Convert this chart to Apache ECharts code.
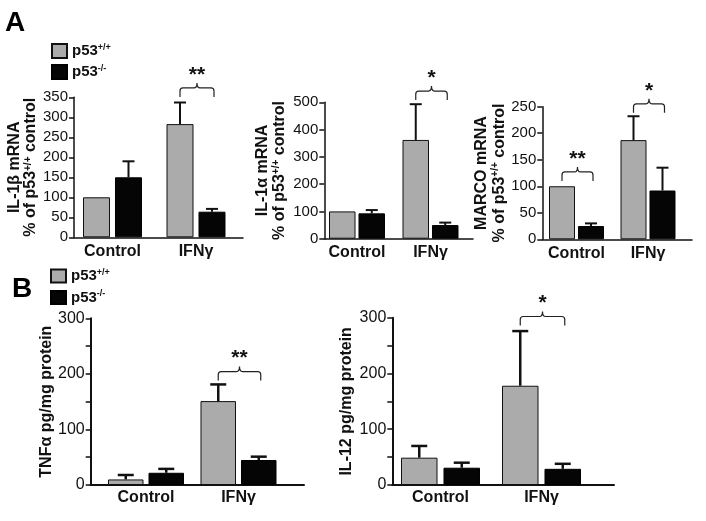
<!DOCTYPE html>
<html><head><meta charset="utf-8">
<script src="https://cdn.jsdelivr.net/npm/echarts@6/dist/echarts.min.js"></script>
<style>html,body{margin:0;padding:0;background:#fff}#c{width:706px;height:521px}</style>
</head><body><div id="c"></div>
<script>
// ---------- data ----------
const categories = ['Control', 'IFNγ'];
const seriesNames = ['p53+/+', 'p53-/-'];
const marks = ['*', '**'];

// A: IL-1β mRNA (% of p53+/+ control)
const il1bWT = [100, 283];
const il1bWTErr = [null, 337];
const il1bKO = [150, 64];
const il1bKOErr = [190, 71];
const il1bSig = [[2, 351, 1]];

// A: IL-1α mRNA
const il1aWT = [100, 362];
const il1aWTErr = [null, 493];
const il1aKO = [93, 50];
const il1aKOErr = [105, 59];
const il1aSig = [[2, 508, 0]];

// A: MARCO mRNA
const marcoWT = [100, 187];
const marcoWTErr = [null, 232];
const marcoKO = [25, 92];
const marcoKOErr = [30, 135];
const marcoSig = [[1, 110, 1], [2, 238.5, 0]];

// B: TNFα pg/mg protein
const tnfWT = [10, 151];
const tnfWTErr = [18, 181];
const tnfKO = [22, 45];
const tnfKOErr = [29, 51];
const tnfSig = [[2, 188, 1]];

// B: IL-12 pg/mg protein
const il12WT = [49, 178];
const il12WTErr = [70, 276];
const il12KO = [31, 29];
const il12KOErr = [40, 38];
const il12Sig = [[2, 286, 0]];

// ---------- layout / style ----------
const FONT = '"Liberation Sans", Arial, Helvetica, sans-serif';
const SUP = '{b|% of p53}{s|+/+}{b| control}';
const panels = [
  {wt: il1bWT, wtE: il1bWTErr, ko: il1bKO, koE: il1bKOErr, sig: il1bSig,
   name: '{b|IL-1β mRNA}\n' + SUP, nameGap: 30, nameLH: 16,
   left: 74, top: 97.3, y0: 237.3, xEnd: 243, c1: 112.5, u: 83.5, bw: 27, gap: 5,
   max: 350, interval: 50, step: 50, tickFont: 15, lw: 2, cap: 12, axW: 1.5, catMargin: 6},
  {wt: il1aWT, wtE: il1aWTErr, ko: il1aKO, koE: il1aKOErr, sig: il1aSig,
   name: '{b|IL-1α mRNA}\n' + SUP, nameGap: 36, nameLH: 17,
   left: 324.3, top: 102.3, y0: 238.7, xEnd: 473, c1: 357, u: 73.5, bw: 26.5, gap: 3,
   max: 500, interval: 100, step: 100, tickFont: 15, lw: 2, cap: 12, axW: 1.5, catMargin: 6},
  {wt: marcoWT, wtE: marcoWTErr, ko: marcoKO, koE: marcoKOErr, sig: marcoSig,
   name: '{b|MARCO mRNA}\n' + SUP, nameGap: 27, nameLH: 18,
   left: 542.3, top: 106.7, y0: 239.3, xEnd: 692, c1: 576.5, u: 71.5, bw: 26, gap: 3,
   max: 250, interval: 50, step: 50, tickFont: 15, lw: 2, cap: 12, axW: 1.5, catMargin: 6},
  {wt: tnfWT, wtE: tnfWTErr, ko: tnfKO, koE: tnfKOErr, sig: tnfSig,
   name: '{b|TNFα pg/mg protein}', nameGap: 34, nameLH: 17,
   left: 90.7, top: 318.3, y0: 485, xEnd: 304, c1: 146, u: 92.5, bw: 35.5, gap: 5,
   max: 300, interval: 50, step: 100, tickFont: 16, lw: 2.5, cap: 16, axW: 2, catMargin: 5},
  {wt: il12WT, wtE: il12WTErr, ko: il12KO, koE: il12KOErr, sig: il12Sig,
   name: '{b|IL-12 pg/mg protein}', nameGap: 37, nameLH: 17,
   left: 392.3, top: 317.7, y0: 485, xEnd: 614, c1: 440.5, u: 101, bw: 36.5, gap: 6,
   max: 300, interval: 50, step: 100, tickFont: 16, lw: 2.5, cap: 16, axW: 2, catMargin: 5}
];

const grid = [], xAxis = [], yAxis = [], series = [];
const toPts = arr => arr.map((v, i) => [i + 1, v]);

panels.forEach((p, gi) => {
  grid.push({left: p.left, top: p.top, width: p.xEnd - p.left, height: p.y0 - p.top, containLabel: false});
  xAxis.push({
    gridIndex: gi, type: 'value',
    min: 1 - (p.c1 - p.left) / p.u, max: 1 + (p.xEnd - p.c1) / p.u,
    axisLine: {show: true, onZero: false, lineStyle: {color: '#111', width: p.axW}},
    axisTick: {show: false}, splitLine: {show: false},
    axisLabel: {customValues: [1, 2], formatter: v => categories[Math.round(v) - 1] || '',
      fontFamily: FONT, fontSize: 16, fontWeight: 'bold', color: '#111', margin: p.catMargin}
  });
  yAxis.push({
    gridIndex: gi, type: 'value', min: 0, max: p.max, interval: p.interval,
    axisLine: {show: true, lineStyle: {color: '#111', width: p.axW}},
    axisTick: {show: true, length: 5, lineStyle: {color: '#111', width: 1.5}},
    splitLine: {show: false},
    axisLabel: {fontFamily: FONT, fontSize: p.tickFont, color: '#111', margin: 6,
      formatter: v => (v % p.step === 0 ? String(v) : '')},
    name: p.name, nameLocation: 'middle', nameGap: p.nameGap, nameRotate: 90,
    nameTextStyle: {fontFamily: FONT, fontSize: 16, fontWeight: 'bold', color: '#111',
      rich: {
        b: {fontFamily: FONT, fontSize: 16, fontWeight: 'bold', color: '#111', lineHeight: p.nameLH},
        s: {fontFamily: FONT, fontSize: 10, fontWeight: 'bold', color: '#111', verticalAlign: 'top', lineHeight: 10}
      }}
  });
  const gapPct = (p.gap / p.bw * 100).toFixed(1) + '%';
  series.push({
    type: 'bar', name: seriesNames[0], xAxisIndex: gi, yAxisIndex: gi,
    data: toPts(p.wt), barWidth: p.bw, barGap: gapPct,
    itemStyle: {color: '#ababab', borderColor: '#111', borderWidth: 1}, z: 2
  });
  series.push({
    type: 'bar', name: seriesNames[1], xAxisIndex: gi, yAxisIndex: gi,
    data: toPts(p.ko), barWidth: p.bw, barGap: gapPct,
    itemStyle: {color: '#050505', borderColor: '#000', borderWidth: 1}, z: 2
  });
  const errData = [];
  [p.wtE, p.koE].forEach((errs, s) => {
    const vals = s === 0 ? p.wt : p.ko;
    errs.forEach((e, i) => { if (e != null) errData.push([i + 1, vals[i], e, s]); });
  });
  series.push({
    type: 'custom', xAxisIndex: gi, yAxisIndex: gi, clip: false, z: 3, silent: true,
    data: errData,
    renderItem: (params, api) => {
      const x = api.value(0), v = api.value(1), e = api.value(2), s = api.value(3);
      const half = (p.bw + p.gap) / 2;
      const b = api.coord([x, v]), t = api.coord([x, e]);
      const cx = b[0] + (s === 0 ? -half : half);
      const st = {stroke: '#111', lineWidth: p.lw};
      return {type: 'group', children: [
        {type: 'line', shape: {x1: cx, y1: b[1], x2: cx, y2: t[1]}, style: st},
        {type: 'line', shape: {x1: cx - p.cap / 2, y1: t[1], x2: cx + p.cap / 2, y2: t[1]}, style: st}
      ]};
    }
  });
  series.push({
    type: 'custom', xAxisIndex: gi, yAxisIndex: gi, clip: false, z: 3, silent: true,
    data: p.sig,
    renderItem: (params, api) => {
      const cat = api.value(0), lvl = api.value(1), mi = api.value(2);
      const half = (p.bw + p.gap) / 2;
      const c = api.coord([cat, lvl]);
      const x1 = c[0] - half, x2 = c[0] + half + 2, yb = c[1];
      const h = 9, k = 5, r = 3, xm = (x1 + x2) / 2, yh = yb - h;
      const d = `M${x1} ${yb} L${x1} ${yh + r} Q${x1} ${yh} ${x1 + r} ${yh} L${xm - r} ${yh} Q${xm} ${yh} ${xm} ${yh - k} Q${xm} ${yh} ${xm + r} ${yh} L${x2 - r} ${yh} Q${x2} ${yh} ${x2} ${yh + r} L${x2} ${yb}`;
      return {type: 'group', children: [
        {type: 'path', shape: {pathData: d}, style: {fill: 'none', stroke: '#222', lineWidth: 1.2}},
        {type: 'text', style: {text: marks[mi], x: xm, y: yh - k - 8,
          align: 'center', verticalAlign: 'middle', textAlign: 'center', textVerticalAlign: 'middle',
          font: 'bold 21px ' + FONT, fill: '#111'}}
      ]};
    }
  });
});

const legendFmt = n => (n === seriesNames[0] ? '{b|p53}{s|+/+}' : '{b|p53}{s|-/-}');
const legendText = {
  fontFamily: FONT, fontSize: 15, fontWeight: 'bold', color: '#111',
  rich: {
    b: {fontFamily: FONT, fontSize: 15, fontWeight: 'bold', color: '#111', lineHeight: 16},
    s: {fontFamily: FONT, fontSize: 9, fontWeight: 'bold', color: '#111', verticalAlign: 'top', lineHeight: 9}
  }
};
const legendBase = {orient: 'vertical', icon: 'rect', itemWidth: 15, itemHeight: 14, itemGap: 5,
  selectedMode: false, padding: 0, data: seriesNames, formatter: legendFmt, textStyle: legendText};

const option = {
  backgroundColor: '#fff',
  animation: false,
  title: [
    {text: 'A', left: 5, top: 9, padding: 0, textStyle: {fontFamily: FONT, fontSize: 28, fontWeight: 'bold', color: '#000'}},
    {text: 'B', left: 12, top: 275, padding: 0, textStyle: {fontFamily: FONT, fontSize: 28, fontWeight: 'bold', color: '#000'}}
  ],
  legend: [
    Object.assign({}, legendBase, {left: 51, top: 43}),
    Object.assign({}, legendBase, {left: 50, top: 268, itemHeight: 13, itemGap: 6})
  ],
  grid, xAxis, yAxis, series
};
const chart = echarts.init(document.getElementById('c'), null, {renderer: 'canvas'});
chart.setOption(option);
</script></body></html>
